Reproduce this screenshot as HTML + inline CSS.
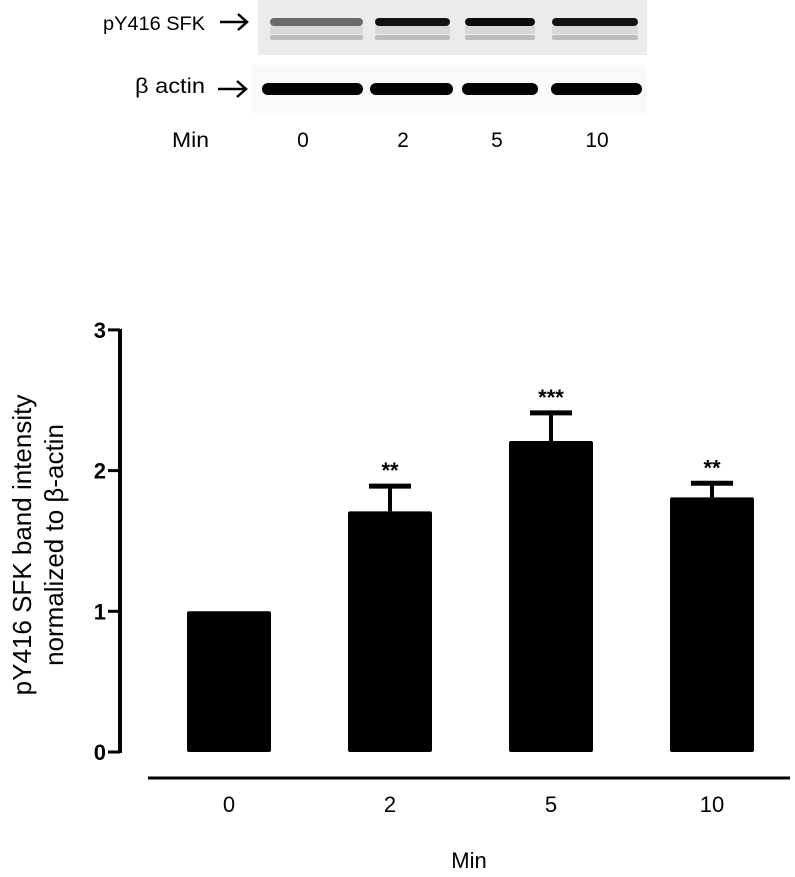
<!DOCTYPE html>
<html><head><meta charset="utf-8"><style>
body{margin:0;background:#fff;}
svg{display:block;font-family:"Liberation Sans",Arial,sans-serif;}
</style></head><body>
<svg width="795" height="877" id="fig">
<g>
  <rect x="258" y="0" width="389" height="55" fill="#ebebeb"/>
  <rect x="252" y="65" width="395" height="48" fill="#f9f9f9"/>
  <text x="103" y="30" font-size="19" textLength="102" lengthAdjust="spacingAndGlyphs">pY416 SFK</text>
  <text x="135" y="93" font-size="21" textLength="70" lengthAdjust="spacingAndGlyphs">β actin</text>
  <g stroke="#000" stroke-width="2.5" fill="none">
    <line x1="220" y1="22" x2="247" y2="22"/><polyline points="238,14 247,22 238,30"/>
  </g>
  <g stroke="#000" stroke-width="2.5" fill="none">
    <line x1="218" y1="89" x2="246" y2="89"/><polyline points="237,81 246,89 237,97"/>
  </g>
  <g id="bands"></g>
  <text x="172" y="147" font-size="21" textLength="37" lengthAdjust="spacingAndGlyphs">Min</text>
  <text x="303" y="147" font-size="21" text-anchor="middle">0</text>
  <text x="403" y="147" font-size="21" text-anchor="middle">2</text>
  <text x="497" y="147" font-size="21" text-anchor="middle">5</text>
  <text x="597" y="147" font-size="21" text-anchor="middle">10</text>
</g>
<g id="chart"></g>
</svg>
<script>
const categories = ["0","2","5","10"];
const values = [1.0, 1.71, 2.21, 1.81];
const errors = [0, 0.18, 0.20, 0.10];
const stars = ["", "**", "***", "**"];
const yTicks = [0,1,2,3];
const bandTop = [0.55, 0.92, 0.95, 0.92];

const NS="http://www.w3.org/2000/svg";
function mk(tag, attrs, parent){const e=document.createElementNS(NS,tag);for(const k in attrs)e.setAttribute(k,attrs[k]);parent.appendChild(e);return e;}
const y0=752, unit=140.7;
function y(v){return y0 - v*unit;}
function xc(i){return 229 + i*161;}
const chart=document.getElementById('chart');
const bw=84;

const bands=document.getElementById('bands');
const laneX=[270,375,465,552];
const laneW=[93,75,70,86];
const actX=[262,370,462,551];
const actW=[101,83,76,91];
for(let i=0;i<4;i++){
  const a=mk('rect',{x:laneX[i],y:18,width:laneW[i],height:8,rx:4,fill:'#000','fill-opacity':bandTop[i]},bands);
  
  
  const m=mk('rect',{x:laneX[i],y:26,width:laneW[i],height:8,fill:'#000','fill-opacity':0.08},bands);
  
  
  const f=mk('rect',{x:laneX[i],y:35,width:laneW[i],height:5,rx:2,fill:'#000','fill-opacity':0.2},bands);
  
  
  const b=mk('rect',{x:actX[i],y:83,width:actW[i],height:12,rx:6,fill:'#000'},bands);
  
  
}

const ya=mk('line',{x1:120,y1:y(3)-1,x2:120,y2:y0+1,stroke:'#000','stroke-width':4},chart);


yTicks.forEach(t=>{
  const l=mk('line',{x1:108,y1:y(t),x2:120,y2:y(t),stroke:'#000','stroke-width':3},chart);
  
  
  const tx=mk('text',{x:106,y:y(t)+8,'font-size':22,'font-weight':'bold','text-anchor':'end'},chart);
  tx.textContent=t;
  
  
});
const xa=mk('line',{x1:148,y1:778,x2:790,y2:778,stroke:'#000','stroke-width':3},chart);



categories.forEach((c,i)=>{
  const cx=xc(i);
  const r=mk('rect',{x:cx-bw/2,y:y(values[i]),width:bw,height:y0-y(values[i]),rx:2,fill:'#000'},chart);
  
  
  if(errors[i]>0){
    const top=y(values[i]+errors[i]);
    const el=mk('line',{x1:cx,y1:top,x2:cx,y2:y(values[i]),stroke:'#000','stroke-width':4},chart);
    
    
    const cap=mk('line',{x1:cx-21,y1:top,x2:cx+21,y2:top,stroke:'#000','stroke-width':5},chart);
    
    
    const s=mk('text',{x:cx,y:top-8,'font-size':22,'font-weight':'bold','text-anchor':'middle'},chart);
    s.textContent=stars[i];
    
    
  }
  const lbl=mk('text',{x:cx,y:812,'font-size':22,'text-anchor':'middle'},chart);
  lbl.textContent=c;
  
  
});
const xt=mk('text',{x:469,y:868,'font-size':22,'text-anchor':'middle'},chart);
xt.textContent='Min';


const yt=mk('text',{transform:'translate(31,545) rotate(-90)','font-size':26,'text-anchor':'middle'},chart);


const t1=mk('tspan',{x:0,y:0},yt); t1.textContent='pY416 SFK band intensity';
const t2=mk('tspan',{x:0,y:32},yt); t2.textContent='normalized to β-actin';
</script>
</body></html>
